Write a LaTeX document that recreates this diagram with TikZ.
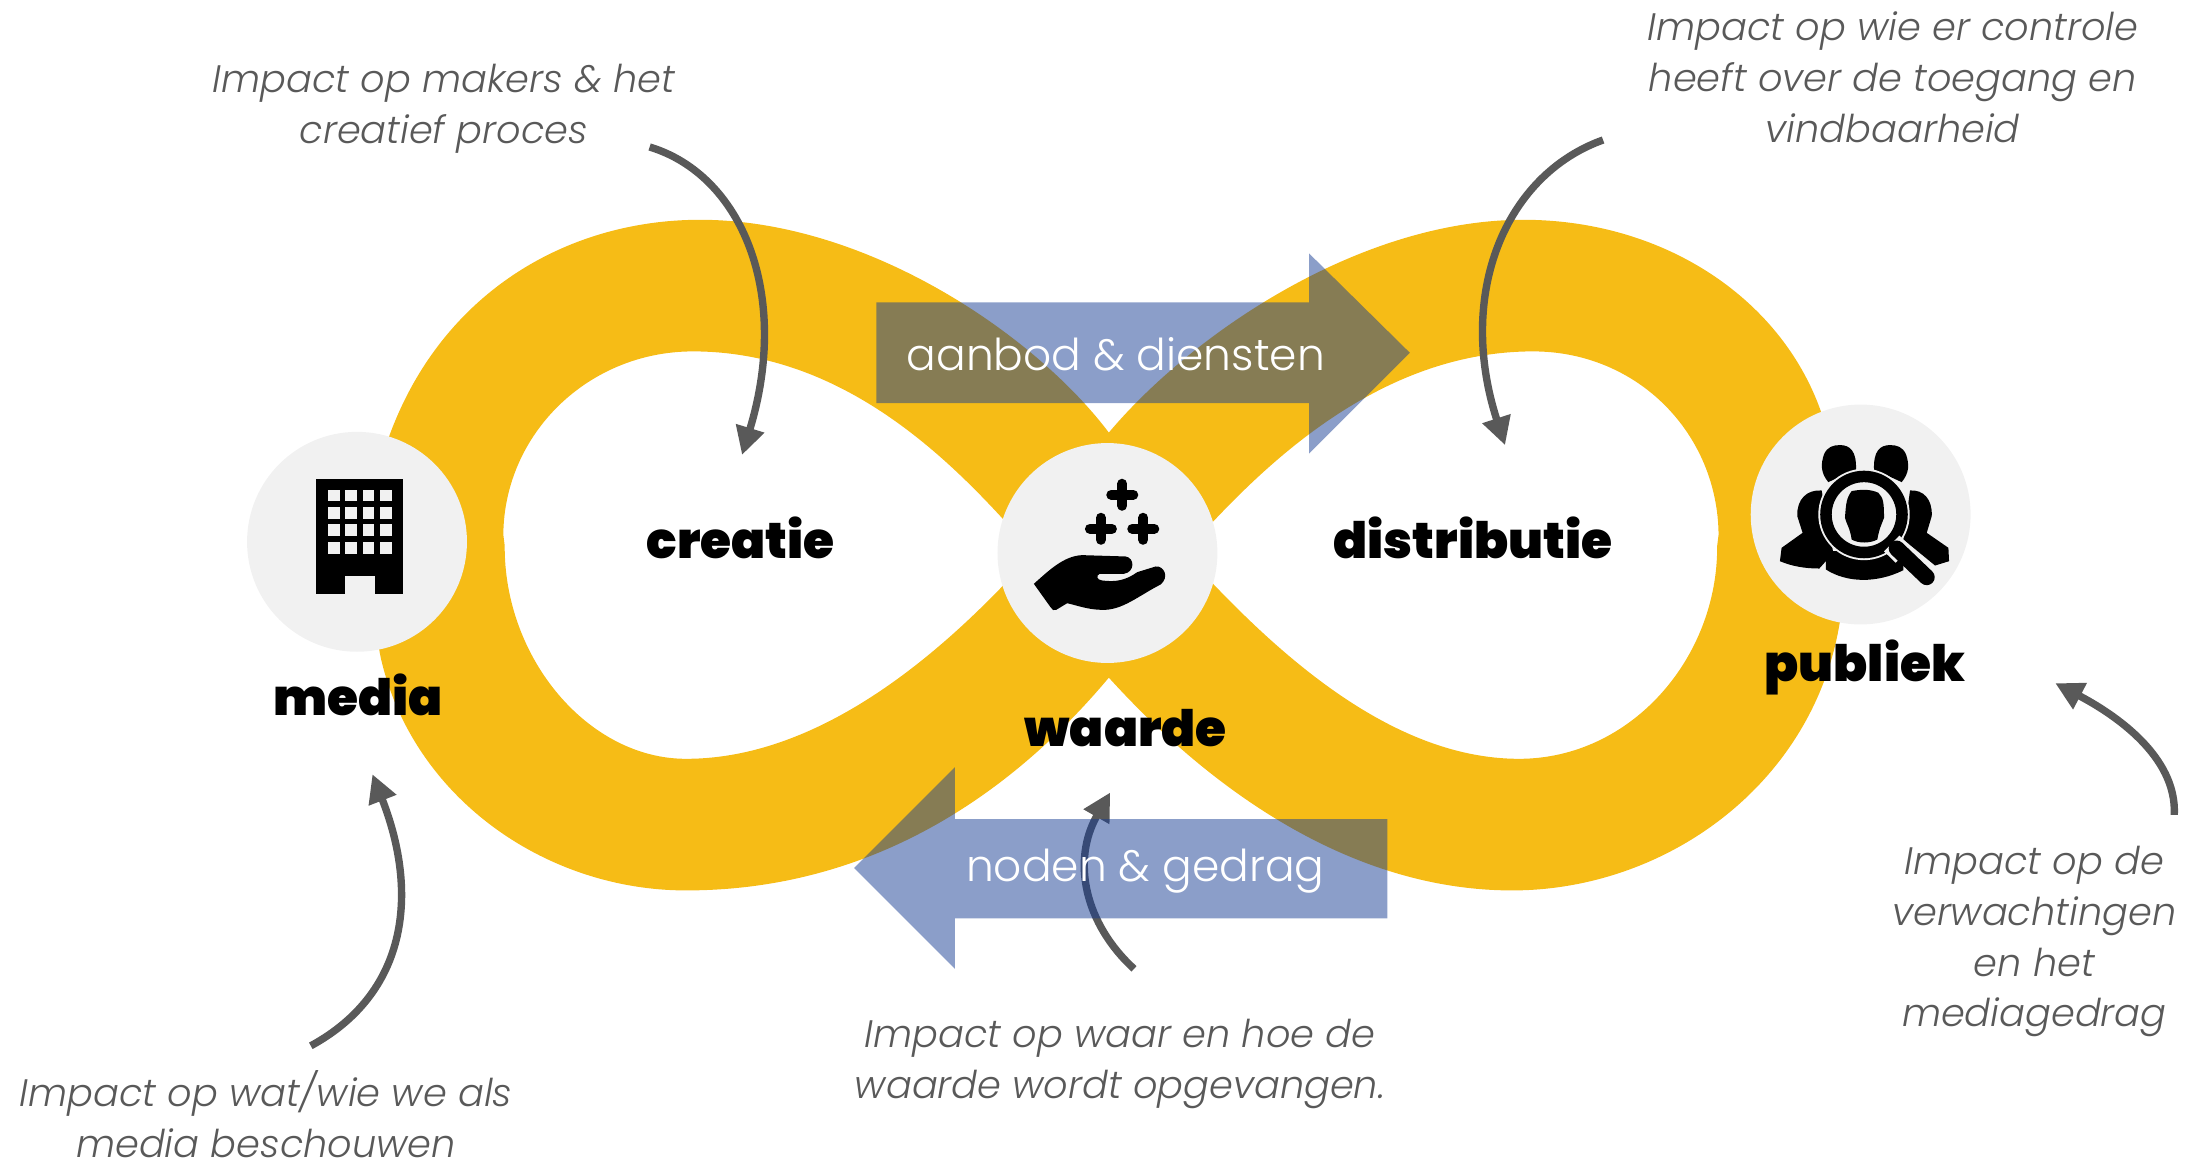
\documentclass[tikz,border=0pt]{standalone}
\usepackage{fontspec}
\usetikzlibrary{arrows.meta}
\newfontfamily\lightfont{Poppins Light}[ItalicFont={Poppins Light Italic}]
\newfontfamily\heavyfont{Poppins Black}
\definecolor{loopyellow}{HTML}{F6BC16}
\definecolor{flowblue}{HTML}{173D93}
\definecolor{hubgray}{HTML}{F1F1F1}
\definecolor{notegray}{HTML}{595959}
\tikzset{
    hubcircle/.style={circle,fill=hubgray,minimum size=2.2cm,inner sep=0pt},
    flowarrow/.style={fill=flowblue,fill opacity=0.5,draw=none},
    flowtext/.style={text=white,font=\lightfont\fontsize{12.5}{15}\selectfont},
    hubtext/.style={font=\heavyfont\fontsize{14.3}{17}\selectfont},
    notetext/.style={text=notegray,align=center,font=\lightfont\itshape\fontsize{10.9}{14.5}\selectfont},
    notearrow/.style={draw=notegray,line width=2.1pt,-{Triangle[length=2.8mm,width=2.8mm]}},
    iconplus/.style={line width=0.1cm,line cap=round},
}
\begin{document}
\begin{tikzpicture}[x=0.014cm,y=-0.014cm]
    \useasboundingbox (0,0) rectangle (1562.1,830.7);
    % the loop
    \fill [loopyellow,even odd rule]
        (792,309) .. controls (740,240) and (620,157) .. (500,157)
        .. controls (400,157) and (305,215) .. (272,330)
        .. controls (262,365) and (262,420) .. (272,470)
        .. controls (295,570) and (390,636) .. (490,636)
        .. controls (620,636) and (720,570) .. (792,484)
        .. controls (870,570) and (970,636) .. (1080,636)
        .. controls (1190,636) and (1295,560) .. (1314,445)
        .. controls (1322,400) and (1322,345) .. (1302,298)
        .. controls (1275,215) and (1190,157) .. (1088,157)
        .. controls (970,157) and (850,240) .. (792,309) -- cycle
        (738,395) .. controls (690,340) and (610,251) .. (495,251)
        .. controls (420,251) and (360,310) .. (359.5,382) -- (360.5,390)
        .. controls (360,470) and (420,542) .. (490,542)
        .. controls (590,542) and (680,460) .. (738,395) -- cycle
        (846,395) .. controls (895,340) and (980,251) .. (1095,251)
        .. controls (1170,251) and (1227,310) .. (1227.5,382) -- (1226.5,390)
        .. controls (1227,470) and (1165,542) .. (1085,542)
        .. controls (990,542) and (905,460) .. (846,395) -- cycle;
    \node [hubcircle] (mediahub) at (255,387) {};
    \node [hubcircle] (waardehub) at (791,395) {};
    \node [hubcircle] (publiekhub) at (1329,367.5) {};
    % building
    \fill (226,342) rectangle (288,424);
    \foreach \x in {234.2,246.6,259,271.6}
        \foreach \y in {349.8,362.2,374.6,387.2}
            \fill [hubgray] (\x,\y) rectangle ++(8.4,8.4);
    \fill [hubgray] (246.6,411.7) rectangle (267.6,424.5);
    % hand
    \begin{scope}[shift={(701.5,307.4)},scale=0.2383]
        \foreach \p in {(420,193),(356,295),(483,295)}
            \draw [iconplus] \p +(-33,0) -- +(33,0) \p +(0,-33) -- +(0,33);
        \fill (155,460) .. controls (200,420) and (245,376) .. (300,374)
            -- (430,378) .. controls (458,382) and (458,425) .. (425,430)
            -- (352,430) .. controls (342,435) and (342,448) .. (360,450)
            .. controls (400,455) and (430,450) .. (465,425)
            -- (520,408) .. controls (545,405) and (562,440) .. (535,462)
            .. controls (470,495) and (420,540) .. (360,538)
            .. controls (320,538) and (285,525) .. (255,518)
            -- (222,538) .. controls (215,542) and (210,538) .. (205,530) -- cycle;
    \end{scope}
    % people
    \begin{scope}[shift={(1247.5,280.5)},scale=0.2383]
        \fill (245,268) .. controls (222,240) and (222,215) .. (232,185)
            .. controls (242,162) and (260,157) .. (280,157)
            .. controls (310,157) and (330,175) .. (328,230) -- cycle;
        \fill (465,268) .. controls (488,240) and (488,215) .. (478,185)
            .. controls (468,162) and (450,157) .. (430,157)
            .. controls (400,157) and (380,175) .. (382,230) -- cycle;
        \fill (225,293) .. controls (180,290) and (150,320) .. (152,370)
            -- (168,420) -- (105,465) -- (100,505)
            .. controls (135,520) and (175,527) .. (218,527) -- (260,480) -- cycle;
        \fill (490,293) .. controls (530,290) and (558,320) .. (555,370)
            -- (540,420) -- (605,465) -- (607,505) -- (565,518) -- (470,440) -- cycle;
        \fill (238,475) -- (470,475) -- (470,532) .. controls (390,572) and (300,570) .. (238,530) -- cycle;
        \fill [hubgray] (352,365) circle [radius=137];
        \draw [line width=0.115cm] (352,365) circle [radius=114];
        \fill (315,295) .. controls (340,290) and (370,288) .. (395,300)
            .. controls (410,315) and (412,330) .. (412,375)
            .. controls (405,395) and (398,405) .. (392,440)
            .. controls (370,452) and (335,452) .. (315,440)
            .. controls (310,405) and (300,395) .. (295,375)
            .. controls (298,330) and (300,315) .. (315,295) -- cycle;
        \draw [hubgray,line width=0.22cm] (435,452) -- (470,486);
        \draw [line width=0.16cm,line cap=round] (450,467) -- (540,553);
    \end{scope}
    % notes and their arrows
    \node [notetext] (makers) at (317,77.5) {Impact op makers \& het\\creatief proces};
    \node [notetext] (controle) at (1352,55.5) {Impact op wie er controle\\heeft over de toegang en\\vindbaarheid};
    \node [notetext] (beschouwen) at (190,796) {Impact op wat/wie we als\\media beschouwen};
    \node [notetext] (opgevangen) at (800,760) {Impact op waar en hoe de\\waarde wordt opgevangen.};
    \node [notetext] (mediagedrag) at (1453,672.5) {Impact op de\\verwachtingen\\en het\\mediagedrag};
    \coordinate (makersend) at (530,325);
    \coordinate (controleend) at (1075,318);
    \coordinate (beschouwenend) at (266,553);
    \coordinate (opgevangenend) at (793,566);
    \coordinate (mediagedragend) at (1468,488);
    \coordinate (makersstart) at (464,105);
    \coordinate (controlestart) at (1145,100);
    \coordinate (beschouwenstart) at (222,747);
    \coordinate (opgevangenstart) at (810,692);
    \coordinate (mediagedragstart) at (1553,582);
    \draw [notearrow] (makersstart) .. controls (530,125) and (565,210) .. (makersend);
    \draw [notearrow] (controlestart) .. controls (1075,125) and (1040,210) .. (controleend);
    \draw [notearrow] (beschouwenstart) .. controls (290,710) and (300,640) .. (beschouwenend);
    \draw [notearrow] (opgevangenstart) .. controls (775,660) and (765,615) .. (opgevangenend);
    \draw [notearrow] (mediagedragstart) .. controls (1555,540) and (1510,510) .. (mediagedragend);
    % flows
    \fill [flowarrow] (626,216) -- (935,216) -- (935,181) -- (1007,252) -- (935,324) -- (935,288) -- (626,288) -- cycle;
    \fill [flowarrow] (991,585) -- (682,585) -- (682,548) -- (610,620) -- (682,692) -- (682,656) -- (991,656) -- cycle;
    \node [flowtext] (aanbod) at (797,253) {aanbod \& diensten};
    \node [flowtext] (noden) at (818,622) {noden \& gedrag};
    % names
    \node [hubtext] (creatie) at (529,384.5) {creatie};
    \node [hubtext] (distributie) at (1052,384.5) {distributie};
    \node [hubtext] (media) at (256,496) {media};
    \node [hubtext] (waarde) at (804,520) {waarde};
    \node [hubtext] (publiek) at (1332,477) {publiek};
\end{tikzpicture}
\end{document}
